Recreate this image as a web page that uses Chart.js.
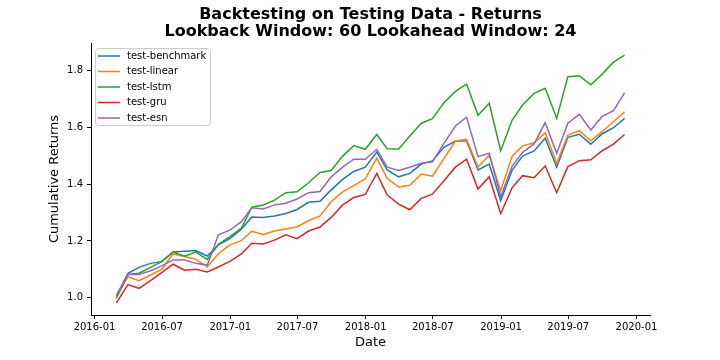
<!DOCTYPE html>
<html>
<head>
<meta charset="utf-8">
<script src="https://cdn.jsdelivr.net/npm/chart.js@4/dist/chart.umd.min.js"></script>
<style>
html,body{margin:0;padding:0;background:#fff;}
#wrap{width:720px;height:360px;}
</style>
</head>
<body>
<div id="wrap"><canvas id="c" width="720" height="360"></canvas></div>
<script>
const dates = ["2016-02-29","2016-03-31","2016-04-30","2016-05-31","2016-06-30","2016-07-31","2016-08-31","2016-09-30","2016-10-31","2016-11-30","2016-12-31",
"2017-01-31","2017-02-28","2017-03-31","2017-04-30","2017-05-31","2017-06-30","2017-07-31","2017-08-31","2017-09-30","2017-10-31","2017-11-30","2017-12-31",
"2018-01-31","2018-02-28","2018-03-31","2018-04-30","2018-05-31","2018-06-30","2018-07-31","2018-08-31","2018-09-30","2018-10-31","2018-11-30","2018-12-31",
"2019-01-31","2019-02-28","2019-03-31","2019-04-30","2019-05-31","2019-06-30","2019-07-31","2019-08-31","2019-09-30","2019-10-31","2019-11-30"];

const benchmark = [1.006,1.086,1.107,1.121,1.127,1.161,1.164,1.166,1.147,1.186,
1.208,1.241,1.284,1.283,1.288,1.297,1.311,1.336,1.340,1.380,
1.417,1.445,1.460,1.513,1.450,1.426,1.438,1.471,1.482,1.530,
1.552,1.552,1.450,1.471,1.342,1.450,1.499,1.517,1.562,1.460,
1.565,1.576,1.541,1.577,1.599,1.632];

const linear = [1.001,1.074,1.060,1.080,1.100,1.154,1.145,1.135,1.109,1.155,
1.186,1.201,1.234,1.223,1.235,1.242,1.250,1.271,1.288,1.338,
1.373,1.395,1.419,1.492,1.421,1.390,1.396,1.436,1.428,1.490,
1.552,1.558,1.460,1.502,1.377,1.499,1.535,1.546,1.581,1.474,
1.572,1.589,1.553,1.585,1.620,1.655];

const lstm = [0.999,1.082,1.086,1.107,1.127,1.161,1.146,1.161,1.135,1.188,
1.215,1.245,1.319,1.327,1.344,1.370,1.373,1.405,1.441,1.448,
1.499,1.536,1.523,1.575,1.525,1.524,1.570,1.615,1.631,1.687,
1.727,1.753,1.643,1.685,1.518,1.626,1.679,1.720,1.738,1.632,
1.779,1.782,1.750,1.787,1.830,1.855];

const gru = [0.982,1.046,1.033,1.060,1.088,1.118,1.097,1.100,1.091,1.108,
1.128,1.154,1.192,1.189,1.203,1.222,1.208,1.235,1.249,1.283,
1.327,1.353,1.364,1.438,1.362,1.330,1.310,1.350,1.365,1.412,
1.460,1.488,1.383,1.426,1.296,1.388,1.430,1.423,1.464,1.370,
1.462,1.483,1.486,1.517,1.541,1.575];

const esn = [1.008,1.082,1.082,1.095,1.112,1.133,1.133,1.121,1.115,1.222,
1.238,1.268,1.317,1.313,1.327,1.333,1.348,1.370,1.374,1.426,
1.460,1.488,1.488,1.523,1.460,1.448,1.460,1.474,1.479,1.544,
1.605,1.636,1.497,1.509,1.356,1.464,1.512,1.542,1.617,1.509,
1.615,1.646,1.591,1.638,1.659,1.722];

const seriesNames = ["test-benchmark","test-linear","test-lstm","test-gru","test-esn"];
const seriesColors = ["#1f77b4","#ff7f0e","#2ca02c","#d62728","#9467bd"];
const xTickLabels = ["2016-01","2016-07","2017-01","2017-07","2018-01","2018-07","2019-01","2019-07","2020-01"];
const yTickValues = [1.0,1.2,1.4,1.6,1.8];
const titleLines = ["Backtesting on Testing Data - Returns","Lookback Window: 60 Lookahead Window: 24"];

function dayNum(s){
  const p = s.split("-").map(Number);
  return Date.UTC(p[0], p[1]-1, p[2] || 1) / 864e5;
}

const xs = dates.map(dayNum);
const span = xs[xs.length-1] - xs[0];
const xMin = xs[0] - 0.05*span;
const xMax = xs[xs.length-1] + 0.05*span;

const allSeries = [benchmark, linear, lstm, gru, esn];
const datasets = allSeries.map((arr, k) => ({
  label: seriesNames[k],
  data: arr.map((v,i) => ({x: xs[i], y: v})),
  borderColor: seriesColors[k],
  backgroundColor: seriesColors[k],
  borderWidth: 1.5,
  pointRadius: 0,
  tension: 0,
  fill: false,
  order: allSeries.length - k
}));

const FONT = "'DejaVu Sans', sans-serif";

const overlay = {
  id: 'overlay',
  afterDraw(chart){
    const ctx = chart.ctx;
    ctx.save();
    // title
    ctx.fillStyle = '#000';
    ctx.font = "bold 16px " + FONT;
    ctx.textAlign = 'center';
    ctx.textBaseline = 'middle';
    const cx = (chart.chartArea.left + chart.chartArea.right)/2;
    ctx.fillText(titleLines[0], cx, 15);
    ctx.fillText(titleLines[1], cx, 32);
    // legend
    const lx = 95.5, ly = 48.5, lw = 115, lh = 77, r = 3;
    ctx.beginPath();
    ctx.moveTo(lx+r, ly);
    ctx.lineTo(lx+lw-r, ly);
    ctx.arcTo(lx+lw, ly, lx+lw, ly+r, r);
    ctx.lineTo(lx+lw, ly+lh-r);
    ctx.arcTo(lx+lw, ly+lh, lx+lw-r, ly+lh, r);
    ctx.lineTo(lx+r, ly+lh);
    ctx.arcTo(lx, ly+lh, lx, ly+lh-r, r);
    ctx.lineTo(lx, ly+r);
    ctx.arcTo(lx, ly, lx+r, ly, r);
    ctx.closePath();
    ctx.fillStyle = 'rgba(255,255,255,0.8)';
    ctx.fill();
    ctx.strokeStyle = '#cccccc';
    ctx.lineWidth = 1;
    ctx.stroke();
    ctx.font = "10px " + FONT;
    ctx.textAlign = 'left';
    ctx.textBaseline = 'middle';
    chart.data.datasets.forEach((ds, k) => {
      const y = 56 + k*15.5;
      ctx.beginPath();
      ctx.moveTo(98, y);
      ctx.lineTo(120, y);
      ctx.strokeStyle = ds.borderColor;
      ctx.lineWidth = 1.5;
      ctx.stroke();
      ctx.fillStyle = '#000';
      ctx.fillText(ds.label, 127, y);
    });
    ctx.restore();
  }
};

new Chart(document.getElementById('c'), {
  type: 'line',
  data: { datasets },
  options: {
    responsive: false,
    animation: false,
    devicePixelRatio: 1,
    layout: { padding: { left: 0, right: 70, top: 43, bottom: 0 } },
    plugins: { legend: { display: false }, title: { display: false }, tooltip: { enabled: false } },
    scales: {
      x: {
        type: 'linear',
        min: xMin,
        max: xMax,
        afterFit(scale){ scale.height = 45; },
        afterBuildTicks(scale){ scale.ticks = xTickLabels.map(l => ({value: dayNum(l + "-01")})); },
        grid: { drawOnChartArea: false, drawTicks: true, tickLength: 4, tickColor: '#000', tickWidth: 1 },
        border: { display: true, color: '#000', width: 1 },
        ticks: {
          autoSkip: false, maxRotation: 0, minRotation: 0, padding: 2,
          color: '#000', font: { family: FONT, size: 10 },
          callback: (v, i) => xTickLabels[i]
        },
        title: { display: true, text: 'Date', color: '#000', font: { family: FONT, size: 13 }, padding: { top: 0, bottom: 10 } }
      },
      y: {
        type: 'linear',
        min: 0.939,
        max: 1.8976,
        afterFit(scale){ scale.width = 91; },
        afterBuildTicks(scale){ scale.ticks = yTickValues.map(v => ({value: v})); },
        grid: { drawOnChartArea: false, drawTicks: true, tickLength: 4, tickColor: '#000', tickWidth: 1 },
        border: { display: true, color: '#000', width: 1 },
        ticks: {
          padding: 4, color: '#000', font: { family: FONT, size: 10 },
          callback: v => Number(v).toFixed(1)
        },
        title: { display: true, text: 'Cumulative Returns', color: '#000', font: { family: FONT, size: 13 }, padding: { top: 47, bottom: 0 } }
      }
    }
  },
  plugins: [overlay]
});
</script>
</body>
</html>
